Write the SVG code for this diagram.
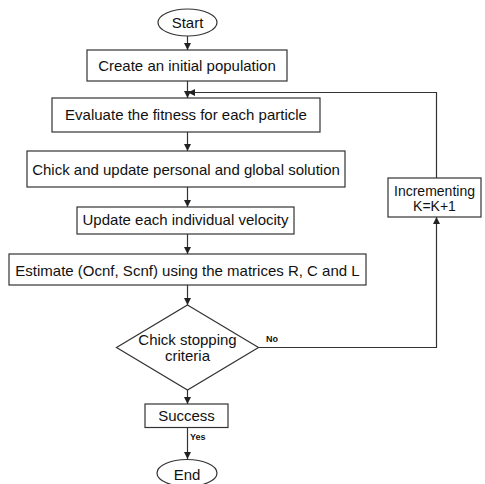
<svg xmlns="http://www.w3.org/2000/svg" width="485" height="484" viewBox="0 0 485 484">
<defs>
<marker id="ah" viewBox="0 0 10 10" refX="10" refY="5" markerWidth="7" markerHeight="7" markerUnits="userSpaceOnUse" orient="auto">
<path d="M0,0 L10,5 L0,10 z" fill="#222"/>
</marker>
<style>
.box{fill:#fff;stroke:#333;stroke-width:1.2}
.t{font-family:"Liberation Sans",Arial,sans-serif;font-size:15px;fill:#111;text-anchor:middle}
.s{font-size:14px}
.lbl{font-family:"Liberation Sans",Arial,sans-serif;font-size:9px;font-weight:bold;fill:#111}
.c{fill:none;stroke:#333;stroke-width:1.2}
</style>
</defs>
<rect width="485" height="484" fill="#fff"/>
<g id="connectors">
<line class="c" x1="187.5" y1="36" x2="187.5" y2="50" marker-end="url(#ah)"/>
<line class="c" x1="187.5" y1="81" x2="187.5" y2="98" marker-end="url(#ah)"/>
<line class="c" x1="187.5" y1="132" x2="187.5" y2="151" marker-end="url(#ah)"/>
<line class="c" x1="187.5" y1="187" x2="187.5" y2="207" marker-end="url(#ah)"/>
<line class="c" x1="187.5" y1="234" x2="187.5" y2="254" marker-end="url(#ah)"/>
<line class="c" x1="187.5" y1="285" x2="187.5" y2="305" marker-end="url(#ah)"/>
<line class="c" x1="187.5" y1="390" x2="187.5" y2="404" marker-end="url(#ah)"/>
<line class="c" x1="187.5" y1="427.5" x2="187.5" y2="459" marker-end="url(#ah)"/>
<polyline class="c" points="258.5,347.5 436.5,347.5 436.5,217" marker-end="url(#ah)"/>
<polyline class="c" points="436.5,178 436.5,92.5 188,92.5" marker-end="url(#ah)"/>
<text class="lbl" x="266" y="342">No</text>
<text class="lbl" x="190" y="440">Yes</text>
</g>
<g id="start">
<ellipse class="box" cx="187.5" cy="22.5" rx="29.5" ry="13.5"/>
<text class="t" x="187.5" y="28">Start</text>
</g>
<g id="create">
<rect class="box" x="87" y="50" width="200" height="31"/>
<text class="t" x="187" y="71">Create an initial population</text>
</g>
<g id="evaluate">
<rect class="box" x="52" y="98" width="268" height="34"/>
<text class="t" x="186" y="120">Evaluate the fitness for each particle</text>
</g>
<g id="chick-update">
<rect class="box" x="27" y="151" width="318" height="36"/>
<text class="t" x="186" y="175">Chick and update personal and global solution</text>
</g>
<g id="update-velocity">
<rect class="box" x="77" y="207" width="217" height="27"/>
<text class="t" x="185.5" y="225">Update each individual velocity</text>
</g>
<g id="estimate">
<rect class="box" x="9" y="254" width="357" height="31"/>
<text class="t" x="187.5" y="276">Estimate (Ocnf, Scnf) using the matrices R, C and L</text>
</g>
<g id="decision">
<polygon class="box" points="187.5,305 258.5,347.5 187.5,390 116.5,347.5"/>
<text class="t" x="187.5" y="345">Chick stopping</text>
<text class="t" x="187.5" y="361">criteria</text>
</g>
<g id="increment">
<rect class="box" x="388" y="178" width="93" height="39"/>
<text class="t s" x="434.5" y="195.5">Incrementing</text>
<text class="t s" x="434.5" y="210.5">K=K+1</text>
</g>
<g id="success">
<rect class="box" x="145" y="404" width="83" height="23.5"/>
<text class="t" x="186.5" y="421">Success</text>
</g>
<g id="end">
<ellipse class="box" cx="187" cy="473" rx="30" ry="13.5"/>
<text class="t" x="187" y="479.5">End</text>
</g>
</svg>
